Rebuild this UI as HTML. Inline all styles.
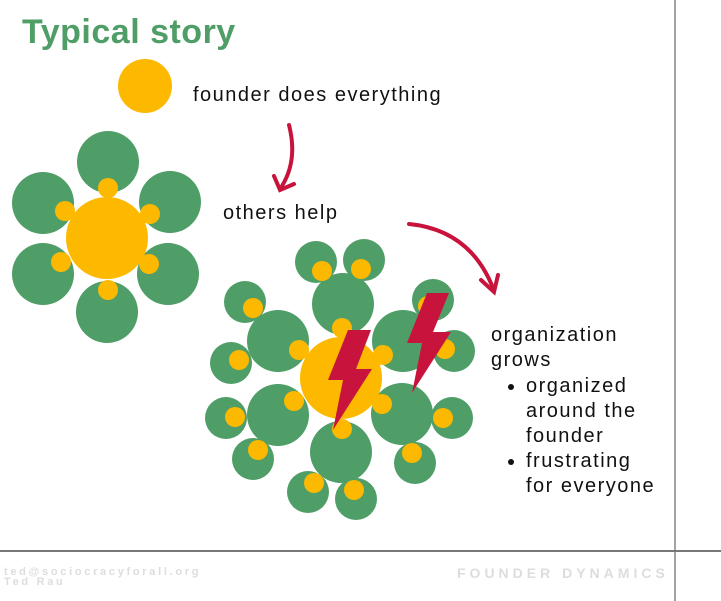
<!DOCTYPE html>
<html><head><style>
body{margin:0;width:721px;height:601px;background:#fff;position:relative;overflow:hidden;font-family:"Liberation Sans",sans-serif}
.t{position:absolute;color:#111;font-size:20px;white-space:nowrap;letter-spacing:1.5px}
</style></head><body>
<svg width="721" height="601" style="position:absolute;left:0;top:0">
<line x1="675" y1="0" x2="675" y2="601" stroke="#444" stroke-width="1"/>
<line x1="0" y1="551" x2="721" y2="551" stroke="#777" stroke-width="2"/>
<g fill="#4f9e68">
<circle cx="108" cy="162" r="31"/><circle cx="43" cy="203" r="31"/><circle cx="170" cy="202" r="31"/>
<circle cx="43" cy="274" r="31"/><circle cx="168" cy="274" r="31"/><circle cx="107" cy="312" r="31"/>
<circle cx="316" cy="262" r="21"/><circle cx="364" cy="260" r="21"/><circle cx="245" cy="302" r="21"/><circle cx="433" cy="300" r="21"/>
<circle cx="231" cy="363" r="21"/><circle cx="454" cy="351" r="21"/><circle cx="226" cy="418" r="21"/><circle cx="452" cy="418" r="21"/>
<circle cx="253" cy="459" r="21"/><circle cx="415" cy="463" r="21"/><circle cx="308" cy="492" r="21"/><circle cx="356" cy="499" r="21"/>
<circle cx="343" cy="304" r="31"/><circle cx="278" cy="341" r="31"/><circle cx="403" cy="341" r="31"/>
<circle cx="278" cy="415" r="31"/><circle cx="402" cy="414" r="31"/><circle cx="341" cy="452" r="31"/>
</g>
<g fill="#fdb800">
<circle cx="145" cy="86" r="27"/>
<circle cx="107" cy="238" r="41"/>
<circle cx="108" cy="188" r="10"/><circle cx="65" cy="211" r="10"/><circle cx="150" cy="214" r="10"/>
<circle cx="61" cy="262" r="10"/><circle cx="149" cy="264" r="10"/><circle cx="108" cy="290" r="10"/>
<circle cx="341" cy="378" r="41"/>
<circle cx="322" cy="271" r="10"/><circle cx="361" cy="269" r="10"/><circle cx="253" cy="308" r="10"/><circle cx="428" cy="306" r="10"/>
<circle cx="239" cy="360" r="10"/><circle cx="445" cy="349" r="10"/><circle cx="235" cy="417" r="10"/><circle cx="443" cy="418" r="10"/>
<circle cx="258" cy="450" r="10"/><circle cx="412" cy="453" r="10"/><circle cx="314" cy="483" r="10"/><circle cx="354" cy="490" r="10"/>
<circle cx="342" cy="328" r="10"/><circle cx="299" cy="350" r="10"/><circle cx="383" cy="355" r="10"/>
<circle cx="294" cy="401" r="10"/><circle cx="382" cy="404" r="10"/><circle cx="342" cy="429" r="10"/>
</g>
<g fill="#c8143c">
<polygon points="348,330 371,330 356,369 372,369 333,430 343,380 328,380"/>
<polygon points="427,293 449,293 433,332 451,332 412,393 422,343 407,343"/>
</g>
<g fill="none" stroke="#c8143c" stroke-width="4" stroke-linecap="round">
<path d="M289,125 Q298,160 282,186"/>
<path d="M274,176 L280,190 L294,184"/>
<path d="M409,224 Q470,230 493,288"/>
<path d="M481,280 L494,292 L498,275"/>
</g>
</svg>
<div class="t" style="left:22px;top:13px;font-size:34px;font-weight:bold;color:#4f9e68;letter-spacing:0.5px">Typical story</div>
<div class="t" style="left:193px;top:84px">founder does everything</div>
<div class="t" style="left:223px;top:202px">others help</div>
<div class="t" style="left:491px;top:323px;line-height:25px">organization<br>grows</div>
<ul style="position:absolute;left:482px;top:374px;margin:0;padding-left:44px;font-size:20px;line-height:25px;color:#111;letter-spacing:1.5px">
<li>organized<br>around the<br>founder</li><li>frustrating<br>for everyone</li></ul>
<div class="t" style="left:4px;top:567px;font-size:11px;font-weight:bold;color:#ddd;letter-spacing:2.7px;line-height:10px">ted@sociocracyforall.org<br>Ted Rau</div>
<div class="t" style="left:457px;top:565px;font-size:14px;font-weight:bold;color:#ddd;letter-spacing:4px">FOUNDER DYNAMICS</div>
</body></html>
